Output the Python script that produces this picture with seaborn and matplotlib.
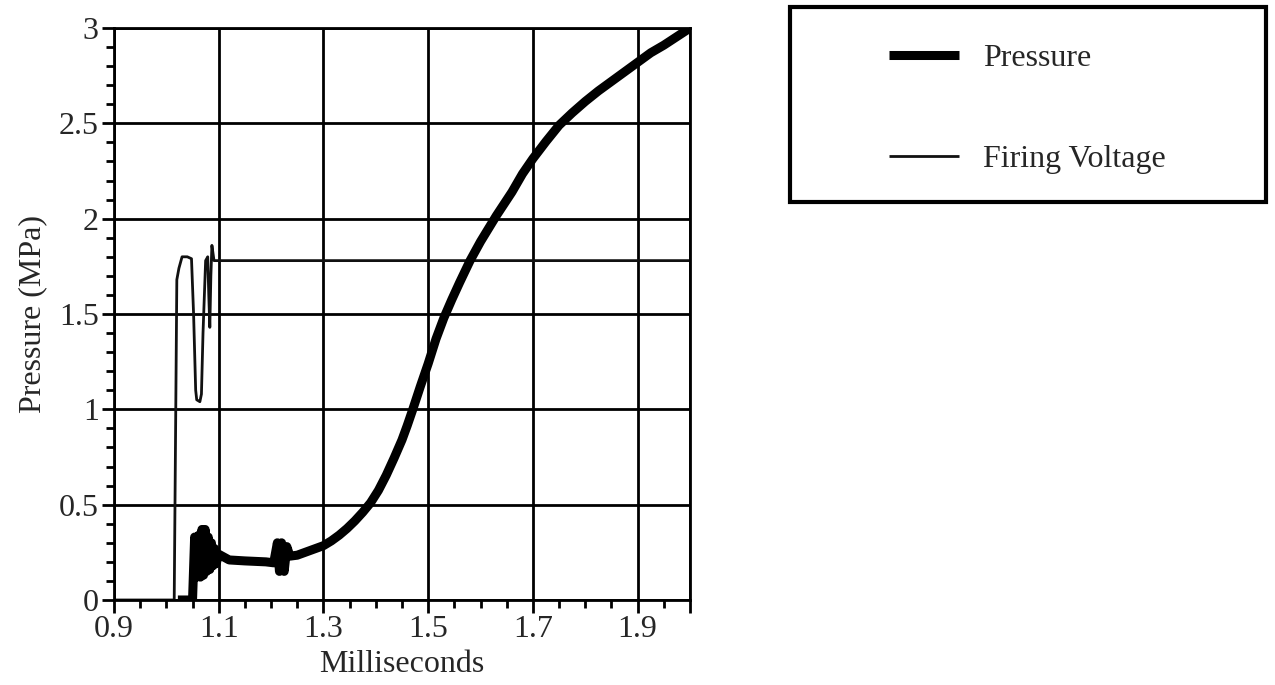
import seaborn as sns
import matplotlib.pyplot as plt
import pandas as pd
from matplotlib.patches import Rectangle
from matplotlib.ticker import MultipleLocator, FixedLocator

# Pressure trace (ms, MPa)
pressure_ms = [1.022, 1.050, 1.054, 1.058, 1.062, 1.065, 1.068, 1.071, 1.074, 1.077,
               1.080, 1.083, 1.086, 1.089, 1.092, 1.095, 1.100, 1.120, 1.150, 1.190,
               1.205, 1.212, 1.216, 1.220, 1.225, 1.230, 1.236, 1.250, 1.270, 1.300,
               1.315, 1.330, 1.345, 1.360, 1.375, 1.390, 1.405, 1.420, 1.435, 1.450,
               1.460, 1.470, 1.485, 1.500, 1.515, 1.530, 1.545, 1.560, 1.580, 1.600,
               1.630, 1.660, 1.680, 1.700, 1.725, 1.750, 1.775, 1.800, 1.825, 1.850,
               1.875, 1.900, 1.925, 1.950, 1.975, 2.000]
pressure_mpa = [0.0, 0.0, 0.33, 0.12, 0.34, 0.12, 0.37, 0.13, 0.37, 0.15,
                0.33, 0.16, 0.30, 0.18, 0.27, 0.19, 0.24, 0.21, 0.205, 0.20,
                0.195, 0.30, 0.15, 0.30, 0.15, 0.28, 0.23, 0.235, 0.255, 0.285,
                0.31, 0.34, 0.375, 0.415, 0.46, 0.51, 0.575, 0.655, 0.745, 0.84,
                0.915, 0.995, 1.12, 1.24, 1.37, 1.48, 1.575, 1.665, 1.78, 1.88,
                2.015, 2.14, 2.235, 2.315, 2.405, 2.49, 2.555, 2.615, 2.67, 2.72,
                2.77, 2.82, 2.87, 2.91, 2.955, 3.0]

# Firing voltage trace (drawn on the same scale)
voltage_ms = [0.900, 1.015, 1.020, 1.024, 1.030, 1.040, 1.048, 1.052, 1.056, 1.058,
              1.064, 1.067, 1.070, 1.075, 1.079, 1.081, 1.083, 1.085, 1.087, 1.089,
              1.091, 2.000]
voltage_val = [0.0, 0.0, 1.68, 1.74, 1.80, 1.80, 1.79, 1.50, 1.10, 1.05,
               1.04, 1.08, 1.40, 1.78, 1.80, 1.60, 1.43, 1.70, 1.86, 1.82,
               1.78, 1.78]

sns.set_style("white")
plt.rcParams['font.family'] = ['Liberation Serif', 'DejaVu Serif']

df_p = pd.DataFrame({'ms': pressure_ms, 'val': pressure_mpa})
df_v = pd.DataFrame({'ms': voltage_ms, 'val': voltage_val})

fig = plt.figure(figsize=(12.75, 6.85), dpi=100)
ax = fig.add_axes([0.0894, 0.1241, 0.4518, 0.835])

sns.lineplot(data=df_v, x='ms', y='val', sort=False, estimator=None,
             color='#111111', linewidth=2.0, label='Firing Voltage', ax=ax,
             solid_capstyle='butt')
sns.lineplot(data=df_p, x='ms', y='val', sort=False, estimator=None,
             color='black', linewidth=6.5, label='Pressure', ax=ax,
             solid_capstyle='butt')

ax.set_xlim(0.9, 2.0)
ax.set_ylim(0, 3)
ax.xaxis.set_major_locator(FixedLocator([0.9, 1.1, 1.3, 1.5, 1.7, 1.9, 2.0]))
ax.xaxis.set_minor_locator(MultipleLocator(0.05))
ax.yaxis.set_minor_locator(MultipleLocator(0.1))
ax.set_xticklabels(['0.9', '1.1', '1.3', '1.5', '1.7', '1.9', ''])
ax.set_yticks([0, 0.5, 1, 1.5, 2, 2.5, 3])
ax.set_yticklabels(['0', '0.5', '1', '1.5', '2', '2.5', '3'])

ax.grid(True, which='major', color='black', linewidth=2.0)
ax.set_axisbelow(True)
for s in ax.spines.values():
    s.set_color('black')
    s.set_linewidth(2.0)

ax.tick_params(axis='both', which='major', direction='out', length=9, width=2,
               labelsize=23, color='black', pad=2)
ax.tick_params(axis='both', which='minor', direction='out', length=6, width=2,
               color='black')
ax.tick_params(bottom=True, left=True, which='both')

ax.set_xlabel('Milliseconds', fontsize=23, labelpad=4)
ax.set_ylabel('Pressure (MPa)', fontsize=23, labelpad=8)

handles, labels = ax.get_legend_handles_labels()
ax.get_legend().remove()
order = [labels.index('Pressure'), labels.index('Firing Voltage')]
fig.legend([handles[i] for i in order], [labels[i] for i in order],
           loc='upper left', bbox_to_anchor=(0.6973, 0.936), frameon=False,
           borderpad=0, borderaxespad=0, fontsize=23, handlelength=2.2,
           handletextpad=0.75, labelspacing=2.25)

fig.patches.append(Rectangle((0.6196, 0.7051), 0.3733, 0.2847, transform=fig.transFigure,
                             fill=False, edgecolor='black', linewidth=3))

fig.savefig('out.png', dpi=100)
